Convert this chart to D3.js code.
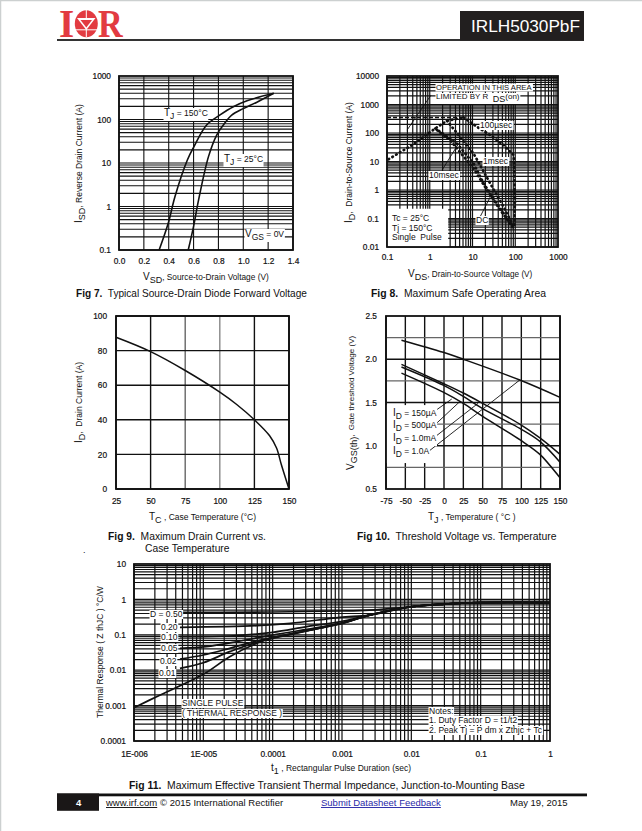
<!DOCTYPE html>
<html><head><meta charset="utf-8">
<style>html,body{margin:0;padding:0;background:#fff}svg{display:block}text{font-family:"Liberation Sans",Arial,sans-serif;fill:#111;white-space:pre}</style>
<script src="https://cdn.jsdelivr.net/npm/d3@7"></script>
</head><body><div id="c"></div>
<script>
// ---- Fig 7 data
const f7Hot=[[.323,.1],[.396,.41],[.45,1.68],[.55,11.7],[.6,23],[.705,75],[.81,126],[.92,197],[1.03,270],[1.245,400]];
const f7Cold=[[.557,.1],[.6,.35],[.64,1.4],[.72,14],[.786,44],[.84,75],[.907,126],[1,178],[1.11,250],[1.245,400]];
const f7XTicks=[0,.2,.4,.6,.8,1,1.2,1.4];
const f7YTicks=[.1,1,10,100,1000];
// ---- Fig 8 data
const f8Rds=[[.109,12],[.385,37.5],[1.35,145],[2.53,269],[6.2,352]];
const f8Limit=[[.1,352],[6.2,352]];
const f8Us100=[[6.2,352],[12.7,165],[26,84],[53.6,37.5],[92,16.7],[98.6,.44],[95,.06]];
const f8Ms1=[[2.53,269],[10.6,19],[26,1.69],[53.6,.255],[92,.05]];
const f8Ms10=[[1.35,145],[4.3,43],[10.6,8.5],[18.3,1.69],[37.4,.33],[84,.058]];
const f8Dc=[[1.48,126],[3,56],[10.6,5.7],[22,.98],[45,.195],[92,.044]];
const f8Leaders=[[[1.07,2140],[.294,126]],[[1.94,5],[4.75,43]],[[15,.113],[26,.57]]];
const f8XTicks=[.1,1,10,100,1000];
const f8YTicks=[.01,.1,1,10,100,1000,10000];
// ---- Fig 9 data
const f9Curve=[[25,87.7],[50,79.4],[75,68.5],[100,56],[112,49],[125,40],[136,30.8],[141,23.7],[144.5,14],[150,0]];
const f9XTicks=[25,50,75,100,125,150];
const f9YTicks=[0,20,40,60,80,100];
// ---- Fig 10 data
const f10A=[[-55,2.22],[-1,2.08],[25,2],[98,1.76],[150,1.56]];
const f10B=[[-55,1.94],[-1,1.72],[25,1.61],[50,1.49],[98,1.25],[124,1.09],[150,.9]];
const f10C=[[-55,1.91],[-1,1.7],[25,1.57],[50,1.43],[98,1.2],[124,1.05],[150,.81]];
const f10D=[[-55,1.84],[-1,1.62],[25,1.49],[50,1.34],[98,1.07],[124,.9],[150,.63]];
const f10Leaders=[[[-12,1.4],[10,1.54]],[[-12,1.24],[20.4,1.51]],[[-12,1.1],[44,1.49]],[[-20.6,.93],[98,1.76]]];
const f10XTicks=[-75,-50,-25,0,25,50,75,100,125,150];
const f10YLabels=[.5,1,1.5,2,2.5];
const f10YMajor=[1,1.5,2];
const f10YMinor=[.75,1.25,1.75,2.25];
// ---- Fig 11 data
const tail=[[.0025,.36],[.01,.62],[.03,.74],[.1,.81],[1,.81]];
const f11D50=[[2e-6,.43],[1e-4,.44],[1e-3,.47],[.0025,.5],[.01,.62],[.03,.74],[.1,.81],[1,.81]];
const f11D20=[[4.6e-6,.162],[5.9e-5,.181],[1.8e-4,.211],[9.3e-4,.311],...tail];
const f11D10=[[4.6e-6,.0885],[2.4e-5,.0925],[1e-4,.117],[3.1e-4,.17],[9.3e-4,.234],...tail];
const f11D05=[[4.6e-6,.0415],[1.1e-5,.0462],[3.4e-5,.0668],[1e-4,.0986],[9.3e-4,.211],...tail];
const f11D02=[[4.6e-6,.0207],[1e-5,.0269],[2.4e-5,.0415],[5.9e-5,.0668],[9.3e-4,.205],...tail];
const f11D01=[[4.6e-6,.0113],[1e-5,.0163],[2.4e-5,.0334],[5.9e-5,.0612],[9.3e-4,.205],...tail];
const f11Single=[[1e-6,.00087],[2.12e-6,.00179],[1e-5,.00764],[2.4e-5,.0241],[5.9e-5,.0575],[1e-4,.083],[9.3e-4,.202],...tail];
const f11XTicks=[1e-6,1e-5,1e-4,1e-3,.01,.1,1];
const f11XLabels=["1E-006","1E-005","0.0001","0.001","0.01","0.1","1"];
const f11YTicks=[.0001,.001,.01,.1,1,10];

const svg=d3.select("#c").append("svg").attr("width",642).attr("height",831);
svg.append("path").attr("d","M0.5 831V0.5H642").attr("fill","none").attr("stroke","#ccd0d0").attr("stroke-width",1.5);

function rich(x,y,parts,opt={}){
  const t=svg.append("text").attr("x",x).attr("y",y).attr("text-anchor",opt.anchor||"start").attr("font-size",opt.size||8.5);
  if(opt.rot!=null)t.attr("transform",`rotate(${opt.rot} ${x} ${y})`);
  if(opt.weight)t.attr("font-weight",opt.weight);
  if(opt.fill)t.style("fill",opt.fill);
  let shift=0;
  parts.forEach(p=>{
    const [s,size,sub,w]=typeof p==="string"?[p]:p;
    const target=sub?3:0;
    const ts=t.append("tspan").text(s).attr("dy",target-shift);
    shift=target;
    if(size)ts.attr("font-size",size);
    if(w)ts.attr("font-weight",w);
  });
  return t;
}
function note(x,y,parts,opt={}){
  const t=rich(x,y,parts,opt);
  const b=t.node().getBBox();
  svg.insert("rect",()=>t.node()).attr("x",b.x-.5).attr("y",b.y+1).attr("width",b.width+1).attr("height",b.height-1).attr("fill","#fff");
  return t;
}
function logGrid(scale){
  const [a,b]=scale.domain();const lo=Math.min(a,b),hi=Math.max(a,b);
  const out=[];
  for(let e=Math.round(Math.log10(lo));e<Math.round(Math.log10(hi));e++)
    for(let m=1;m<10;m++)out.push(+(m*Math.pow(10,e)).toPrecision(3));
  return out;
}
function chart(o){
  const g=svg.append("g");
  const {x,y}=o,[x0,x1]=x.range(),[y1,y0]=y.range();
  g.selectAll(".v").data(o.xGrid).join("line").attr("x1",d=>x(d)).attr("x2",d=>x(d)).attr("y1",y0).attr("y2",y1)
    .attr("stroke",o.vColor||"#111").attr("stroke-width",o.gw||1);
  g.selectAll(".h").data(o.yGrid).join("line").attr("y1",d=>y(d)).attr("y2",d=>y(d)).attr("x1",x0).attr("x2",x1)
    .attr("stroke",o.hColor||"#111").attr("stroke-width",o.gw||1);
  return g;
}
function frame(x,y,w=1.8){
  const [x0,x1]=x.range(),[y1,y0]=y.range();
  svg.append("rect").attr("x",x0).attr("y",y0).attr("width",x1-x0).attr("height",y1-y0).attr("fill","none").attr("stroke","#111").attr("stroke-width",w);
}
function axes(x,y,xt,yt,xf,yf,xdy,ldx){
  const y1=y.range()[0];
  const gb=svg.append("g").attr("transform",`translate(0,${y1})`).call(d3.axisBottom(x).tickValues(xt).tickSize(0).tickPadding(xdy).tickFormat(xf));
  const gl=svg.append("g").attr("transform",`translate(${x.range()[0]},0)`).call(d3.axisLeft(y).tickValues(yt).tickSize(0).tickPadding(ldx).tickFormat(yf));
  [gb,gl].forEach(g=>{g.select(".domain").remove();g.attr("font-family",null).attr("font-size",null);
    g.selectAll("text").attr("font-size",8.3).style("stroke","#111").style("stroke-width",.2);});
}
function draw(d,gen,w,dash,cap){
  const p=svg.append("path").attr("d",gen(d)).attr("fill","none").attr("stroke","#111").attr("stroke-width",w);
  if(dash)p.attr("stroke-dasharray",dash);
  if(cap)p.attr("stroke-linecap",cap);
  return p;
}
function caption(x,y,bold,rest,size=10.3){
  rich(x,y,[[bold,null,false,"bold"],rest],{size});
}

// ---- FIG 7
{
 const x=d3.scaleLinear([0,1.4],[119,293]),y=d3.scaleLog([.1,1000],[250,76]);
 chart({x,y,xGrid:f7XTicks,yGrid:logGrid(y),gw:1.1});
 const gen=d3.line().x(d=>x(d[0])).y(d=>y(d[1])).curve(d3.curveCatmullRom);
 draw(f7Hot,gen,1.6);draw(f7Cold,gen,1.6);
 frame(x,y);
 axes(x,y,f7XTicks,f7YTicks,d3.format(".1f"),d=>d<1?"0.1":String(d),8,8);
 note(164,116,[["T",10],["J",8.5,true]," = 150°C"]);
 note(224,162,[["T",10],["J",8.5,true]," = 25°C"]);
 note(245,237,[["V",10],["GS",8.5,true]," = 0V"]);
 rich(143,280,[["V",10],["SD",9,true],", Source-to-Drain Voltage (V)"],{size:8.3});
 rich(82,223,[["I",10],["SD",9,true],", Reverse Drain Current (A)"],{rot:-90});
 caption(76,297,"Fig 7.","  Typical Source-Drain Diode Forward Voltage",10.1);
}
// ---- FIG 8
{
 const x=d3.scaleLog([.1,1000],[387,558]),y=d3.scaleLog([.01,10000],[247,76]);
 chart({x,y,xGrid:logGrid(x),yGrid:logGrid(y),gw:1.2});
 svg.append("rect").attr("x",x(.1)).attr("y",y(.22)).attr("width",x(2.7)-x(.1)).attr("height",y(.01)-y(.22)).attr("fill","#fff");
 const straight=d3.line().x(d=>x(d[0])).y(d=>y(d[1]));
 f8Leaders.forEach(l=>draw(l,straight,.9));
 draw(f8Limit,straight,1.5,"4 2");
 [f8Rds,f8Us100,f8Ms1,f8Ms10,f8Dc].forEach(d=>draw(d,straight,2.7,"0.6 3.8","round"));
 frame(x,y);
 axes(x,y,f8XTicks,f8YTicks,d=>String(d),d=>String(d),7,8);
 note(436,89.5,["OPERATION IN THIS AREA"],{size:7.6});
 note(436,99,["LIMITED BY R  ",["DS",9,true],["(on)",8]],{size:8});
 note(480,128,["100µsec"]);
 note(483,164,["1msec"]);
 note(429,178,["10msec"]);
 note(476,223,["DC"]);
 rich(392,221,["Tc = 25°C"]);rich(392,231,["Tj = 150°C"]);rich(392,240,["Single  Pulse"]);
 rich(408,277,[["V",10],["DS",9,true],", Drain-to-Source Voltage (V)"],{size:8.2});
 rich(352,223,[["I",10],["D",9,true],",  Drain-to-Source Current (A)"],{rot:-90});
 caption(371,297,"Fig 8.","  Maximum Safe Operating Area",10.4);
}
// ---- FIG 9
{
 const x=d3.scaleLinear([25,150],[116,289]),y=d3.scaleLinear([0,100],[489,316]);
 chart({x,y,xGrid:f9XTicks,yGrid:f9YTicks,gw:1.4,vColor:d=>d===75?"#666":d===100?"#888":"#111"});
 const gen=d3.line().x(d=>x(d[0])).y(d=>y(d[1])).curve(d3.curveCatmullRom);
 draw(f9Curve,gen,1.5);
 frame(x,y);
 axes(x,y,f9XTicks,f9YTicks,d=>String(d),d=>String(d),9,9);
 rich(149,520,[["T",10],["C",9,true]," , Case Temperature (°C)"]);
 rich(82,443,[["I",10],["D",9,true],",  Drain Current (A)"],{rot:-90});
 caption(108,540,"Fig 9.","  Maximum Drain Current vs.",10.3);
 rich(145,552,["Case Temperature"],{size:10.3});
 rich(83,553,["."],{size:9});
}
// ---- FIG 10
{
 const x=d3.scaleLinear([-75,150],[386,560]),y=d3.scaleLinear([.5,2.5],[489,316]);
 chart({x,y,xGrid:f10XTicks,yGrid:f10YMajor,gw:1.4});
 chart({x,y,xGrid:[],yGrid:f10YMinor,gw:1.4,hColor:"#666"});
 const gen=d3.line().x(d=>x(d[0])).y(d=>y(d[1])).curve(d3.curveCatmullRom);
 const straight=d3.line().x(d=>x(d[0])).y(d=>y(d[1]));
 svg.append("rect").attr("x",x(-75)).attr("y",y(1.47)).attr("width",x(-10)-x(-75)).attr("height",y(.8)-y(1.47)).attr("fill","#fff");
 f10Leaders.forEach(l=>draw(l,straight,.9));
 [f10A,f10B,f10C,f10D].forEach(d=>draw(d,gen,1.5));
 frame(x,y);
 axes(x,y,f10XTicks,f10YLabels,d=>String(d),d3.format(".1f"),9,9);
 note(393,416,[["I",10],["D",8.5,true]," = 150µA"]);
 note(393,428,[["I",10],["D",8.5,true]," = 500µA"]);
 note(393,441,[["I",10],["D",8.5,true]," = 1.0mA"]);
 note(393,454,[["I",10],["D",8.5,true]," = 1.0A"]);
 rich(428,520,[["T",10],["J",9,true]," , Temperature ( °C )"]);
 rich(354,470,[["V",10],["GS(th)",9,true],",  Gate threshold Voltage (V)"],{rot:-90,size:8});
 caption(357,540,"Fig 10.","  Threshold Voltage vs. Temperature",10.4);
}
// ---- FIG 11
{
 const x=d3.scaleLog([1e-6,1],[134,550]),y=d3.scaleLog([.0001,10],[741,564]);
 chart({x,y,xGrid:logGrid(x),yGrid:logGrid(y),gw:1.2});
 const gen=d3.line().x(d=>x(d[0])).y(d=>y(d[1])).curve(d3.curveCatmullRom);
 [f11D50,f11D20,f11D10,f11D05,f11D02,f11D01,f11Single].forEach(d=>draw(d,gen,1.7));
 frame(x,y);
 axes(x,y,f11XTicks,f11YTicks,(d,i)=>f11XLabels[i],d=>d>=1?String(d):d3.format(".4~f")(d),10,8);
 note(150,617,["D = 0.50"]);
 note(161,630,["0.20"]);note(161,640,["0.10"]);note(161,651,["0.05"]);note(160,664,["0.02"]);note(159,676,["0.01"]);
 note(182,706,["SINGLE PULSE"]);
 note(182,716,["( THERMAL RESPONSE )"]);
 note(429,714,["Notes:"]);
 note(429,723,["1. Duty Factor D = t1/t2"]);
 note(429,733,["2. Peak Tj = P dm x Zthjc + Tc"]);
 rich(271,771,[["t",10],["1",9,true]," , Rectangular Pulse Duration (sec)"]);
 rich(103,718,["Thermal Response ( Z thJC ) °C/W"],{rot:-90});
 caption(129,789,"Fig 11.","  Maximum Effective Transient Thermal Impedance, Junction-to-Mounting Base",10.4);
}
// ---- HEADER
{
 const red="#e23b41";
 const serif=t=>t.style("font-family","'Liberation Serif'").attr("font-weight","bold");
 serif(rich(59,36.7,["I"],{size:39,fill:red}));
 svg.append("ellipse").attr("cx",86.3).attr("cy",23.7).attr("rx",11.5).attr("ry",13.5).attr("fill",red);
 svg.append("rect").attr("x",74).attr("y",29.3).attr("width",24).attr("height",1).attr("fill","#fff");
 svg.append("rect").attr("x",85.8).attr("y",10).attr("width",1).attr("height",27).attr("fill","#fff");
 svg.append("path").attr("d","M77 18H95.5L86.3 30Z").attr("fill","#fff");
 svg.append("path").attr("d","M80.5 20H92L86.3 27.5Z").attr("fill",red);
 serif(rich(98,36.7,["R"],{size:39,fill:red})).attr("textLength",24.7).attr("lengthAdjust","spacingAndGlyphs");
 svg.append("rect").attr("x",57).attr("y",39).attr("width",527).attr("height",2).attr("fill","#333");
 svg.append("rect").attr("x",460).attr("y",11).attr("width",124).attr("height",29.5).attr("fill","#221f1f");
 rich(471,32,["IRLH5030PbF"],{size:17.2,fill:"#fff"});
}
// ---- FOOTER
{
 svg.append("rect").attr("x",57).attr("y",793.5).attr("width",530).attr("height",2.8).attr("fill","#111");
 svg.append("rect").attr("x",57).attr("y",793.5).attr("width",42).attr("height",17.3).attr("fill","#1a1717");
 rich(76,806,["4"],{size:9.5,weight:"bold",fill:"#fff"});
 rich(106,806,["www.irf.com"],{size:9.5}).style("text-decoration","underline");
 rich(160,806,["© 2015 International Rectifier"],{size:9.5});
 rich(321,806,["Submit Datasheet Feedback"],{size:9.5,fill:"#2a2aa8"}).style("text-decoration","underline");
 rich(510,806,["May 19, 2015"],{size:9.5});
}
</script></body></html>
